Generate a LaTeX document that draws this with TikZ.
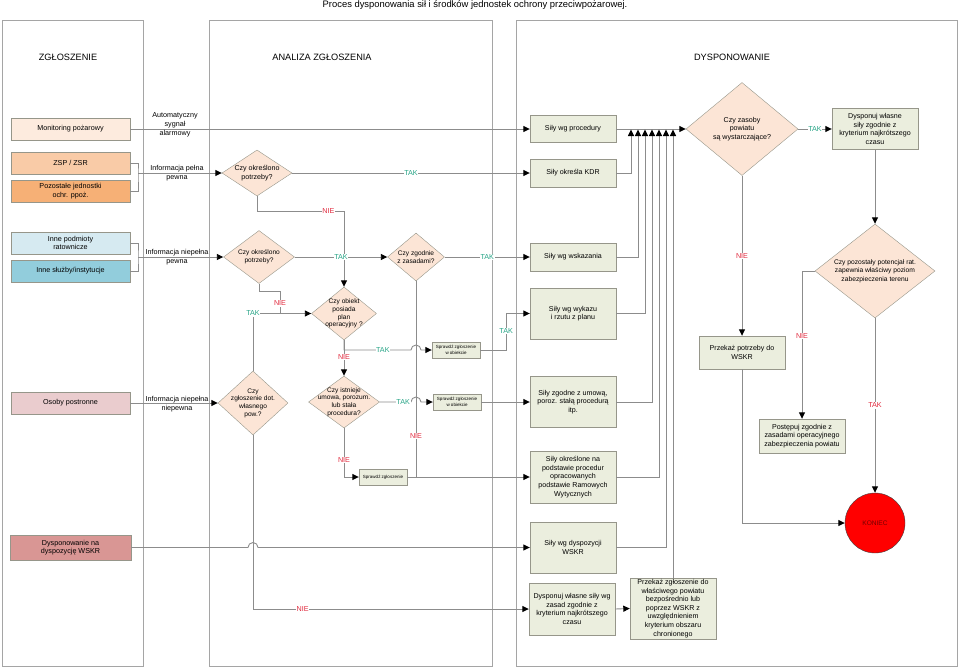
\documentclass[tikz,border=0pt]{standalone}
\usepackage{fontspec}
\setmainfont{Liberation Sans}
\usepackage{tikz}
\usetikzlibrary{shapes.geometric,arrows.meta,calc}

\definecolor{linegray}{RGB}{140,140,140}
\definecolor{lanegray}{RGB}{165,165,165}
\definecolor{boxgray}{RGB}{150,150,138}
\definecolor{diafill}{RGB}{252,229,214}
\definecolor{actfill}{RGB}{235,238,222}
\definecolor{takgreen}{RGB}{40,165,135}
\definecolor{niered}{RGB}{225,40,60}
\definecolor{monfill}{RGB}{253,235,222}
\definecolor{zspfill}{RGB}{249,203,167}
\definecolor{pozfill}{RGB}{246,176,118}
\definecolor{innefill}{RGB}{214,234,241}
\definecolor{sluzfill}{RGB}{146,205,220}
\definecolor{osobfill}{RGB}{234,204,206}
\definecolor{wskrfill}{RGB}{217,150,148}

\newcommand{\fsz}[2]{\fontsize{#1}{#2}\selectfont}

\tikzset{
  lane/.style={draw=lanegray, line width=0.9pt},
  src/.style={draw=boxgray, minimum width=119pt, minimum height=22pt, inner sep=1pt, align=center, font=\fsz{7.2}{8.5}},
  act/.style={draw=boxgray, fill=actfill, minimum width=86pt, inner sep=1pt, align=center, font=\fsz{7.1}{8.6}},
  chk/.style={draw=boxgray, fill=actfill, minimum width=48pt, minimum height=16pt, inner sep=0.5pt, align=center, font=\fsz{4.5}{5.3}},
  dec/.style={diamond, draw=boxgray, fill=diafill, inner sep=0pt},
  dlab/.style={align=center, font=\fsz{6.6}{7.6}},
  conn/.style={draw=linegray, line width=0.9pt},
  arr/.style={conn, -{Triangle[color=black, length=6.5pt, width=6pt]}},
  glbl/.style={text=takgreen, fill=white, inner sep=0.6pt, font=\fsz{7.2}{8}},
  rlbl/.style={text=niered, fill=white, inner sep=0.6pt, font=\fsz{7.2}{8}},
  info/.style={align=center, font=\fsz{7.2}{9}}
}

\begin{document}
\begin{tikzpicture}[x=1pt,y=-1pt]
\useasboundingbox (0,0) rectangle (960,669);

% Title and lanes
\node[font=\fsz{9.4}{11}] (title) at (475,5) {Proces dysponowania sił i środków jednostek ochrony przeciwpożarowej.};
\draw[lane] (2,20) rectangle (143,666);
\draw[lane] (209,20) rectangle (492,666);
\draw[lane] (516,20) rectangle (957,666);
\node[font=\fsz{9.2}{10}] (lz) at (68,57) {ZGŁOSZENIE};
\node[font=\fsz{9.2}{10}] (la) at (322,57) {ANALIZA ZGŁOSZENIA};
\node[font=\fsz{9.2}{10}] (ld) at (732,57) {DYSPONOWANIE};

% Zgloszenie
\node[src, fill=monfill] (mon) at (70.5,129) {Monitoring pożarowy};
\node[src, fill=zspfill] (zsp) at (70.5,163) {ZSP / ZSR};
\node[src, fill=pozfill] (poz) at (70.5,191) {Pozostałe jednostki\\ochr. ppoż.};
\node[src, fill=innefill] (inne) at (70.5,243) {Inne podmioty\\ratownicze};
\node[src, fill=sluzfill] (sluz) at (70.5,271) {Inne służby/instytucje};
\node[src, fill=osobfill] (osob) at (70.5,403) {Osoby postronne};
\node[src, fill=wskrfill, minimum width=121pt, minimum height=25pt] (wskr) at (70.5,547.5) {Dysponowanie na\\dyspozycję WSKR};
\coordinate (j1) at (138,173);
\coordinate (j2) at (138,257);

% Analiza zgloszenia
\node[dec, minimum width=70pt, minimum height=46pt, label={[dlab,font=\fsz{7.1}{8.6}]center:{Czy określono\\potrzeby?}}] (d1) at (257,173) {};
\node[dec, minimum width=71pt, minimum height=53pt, label={[dlab]center:{Czy określono\\potrzeby?}}] (d2) at (259,257) {};
\node[dec, minimum width=57pt, minimum height=48pt, label={[dlab]center:{Czy zgodnie\\z zasadami?}}] (d3) at (416,257) {};
\node[dec, minimum width=65pt, minimum height=53pt, label={[dlab]center:{Czy obiekt\\posiada\\plan\\operacyjny ?}}] (d4) at (344,313.5) {};
\node[dec, minimum width=70pt, minimum height=64pt, label={[dlab]center:{Czy\\zgłoszenie dot.\\własnego\\pow.?}}] (d5) at (253,403) {};
\node[dec, minimum width=71pt, minimum height=52pt, label={[dlab]center:{Czy istnieje\\umowa, porozum.\\lub stała\\procedura?}}] (d6) at (344,402) {};
\node[chk] (chk1) at (456,350) {Sprawdź zgłoszenie\\w obiekcie};
\node[chk] (chk2) at (457,402) {Sprawdź zgłoszenie\\w obiekcie};
\node[chk] (chk3) at (383,477) {Sprawdź zgłoszenie};

% Dysponowanie
\node[act, minimum height=27pt] (proc) at (573,129) {Siły wg procedury};
\node[act, minimum height=28pt] (kdr) at (573,173) {Siły określa KDR};
\node[act, minimum height=28pt] (wsk) at (573,257) {Siły wg wskazania};
\node[act, minimum height=51pt] (wyk) at (573,313.5) {Siły wg wykazu\\i rzutu z planu};
\node[act, minimum height=51pt] (zgod) at (573,402) {Siły zgodne z umową,\\poroz. stałą procedurą\\itp.};
\node[act, minimum height=52pt] (okr) at (573,477) {Siły określone na\\podstawie procedur\\opracowanych\\podstawie Ramowych\\Wytycznych};
\node[act, minimum height=51pt] (dwskr) at (573,547.5) {Siły wg dyspozycji\\WSKR};
\node[act, minimum height=52pt] (dysp2) at (572,609) {Dysponuj własne siły wg\\zasad zgodnie z\\kryterium najkrótszego\\czasu};
\node[act, minimum height=61pt] (przek2) at (673,608.5) {Przekaż zgłoszenie do\\właściwego powiatu\\bezpośrednio lub\\poprzez WSKR z\\uwzględnieniem\\kryterium obszaru\\chronionego};
\node[dec, minimum width=112pt, minimum height=93pt, label={[dlab,font=\fsz{7.1}{8.4}]center:{Czy zasoby\\powiatu\\są wystarczające?}}] (d7) at (742,129) {};
\node[act, minimum height=41pt] (dysp1) at (875,129) {Dysponuj własne\\siły zgodnie z\\kryterium najkrótszego\\czasu};
\node[dec, minimum width=120pt, minimum height=94pt, label={[dlab,font=\fsz{6.7}{8.4}]center:{Czy pozostały potencjał rat.\\zapewnia właściwy poziom\\zabezpieczenia terenu}}] (d8) at (875,271) {};
\node[act, minimum height=33pt] (przek1) at (742,352.5) {Przekaż potrzeby do\\WSKR};
\node[act, minimum height=34pt] (post) at (802,436) {Postępuj zgodnie z\\zasadami operacyjnego\\zabezpieczenia powiatu};
\node[circle, draw=darkgray, fill=red, minimum size=60pt, text=red!45!black, font=\fsz{6.6}{8}] (kon) at (875,523) {KONIEC};

% Connectors from the left lane
\draw[arr] (mon.east) -- (proc.west);
\node[info] (l1) at (175,125) {Automatyczny\\sygnał\\alarmowy};
\draw[conn] (zsp.east) -| (j1) |- (poz.east);
\draw[arr] (j1) -- (d1.west);
\node[info] (l2) at (177,173) {Informacja pełna\\pewna};
\draw[conn] (inne.east) -| (j2) |- (sluz.east);
\draw[arr] (j2) -- (d2.west);
\node[info] (l3) at (177,257) {Informacja niepełna\\pewna};
\draw[arr] (osob.east) -- (d5.west);
\node[info] (l4) at (177,404) {Informacja niepełna\\niepewna};
\draw[arr] (wskr.east) -- ($(d5.south |- wskr.east)+(-5,0)$) arc (180:360:5) -- (dwskr.west);

% Connectors in the analysis lane
\draw[arr] (d1.east) -- (kdr.west) node[glbl, midway] {TAK};
\draw[arr] (d1.south) -- ++(0,15) -| (d4.north) node[rlbl, pos=0.41] {NIE};
\coordinate (j3) at (280,313.5);
\draw[conn] (d2.south) -- ++(0,8) -| (j3) node[rlbl, pos=0.77] {NIE};
\draw[conn] (d5.north) |- (j3) node[glbl, pos=0.5] {TAK};
\draw[arr] (j3) -- (d4.west);
\draw[arr] (d2.east) -- (d3.west) node[glbl, midway] {TAK};
\draw[arr] (d3.east) -- (wsk.west) node[glbl, midway] {TAK};
\draw[conn] (d3.south) -- (d3.south |- chk3.east) node[rlbl, pos=0.79] {NIE};
\draw[arr] (d4.south) |- ($(d3.south |- chk1.west)+(-5,0)$) node[glbl, pos=0.79] {TAK} arc (180:360:5) -- (chk1.west);
\draw[arr] (d4.south) -- (d6.north) node[rlbl, pos=0.47] {NIE};
\draw[arr] (chk1.east) -- ++(26,0) |- (wyk.west) node[glbl, pos=0.26] {TAK};
\draw[arr] (d6.east) -- ($(d3.south |- chk2.west)+(-5,0)$) node[glbl, pos=0.75] {TAK} arc (180:360:5) -- (chk2.west);
\draw[arr] (chk2.east) -- (zgod.west);
\draw[arr] (d6.south) |- (chk3.west) node[rlbl, pos=0.33] {NIE};
\draw[arr] (chk3.east) -- (okr.west);
\draw[arr] (d5.south) |- (dysp2.west) node[rlbl, pos=0.59] {NIE};

% Connectors in the dispatch lane
\draw[arr] (proc.east) -- (d7.west);
\foreach \src/\xx [count=\i] in {kdr/631,wsk/638,wyk/645,zgod/652,okr/659,dwskr/666}
{
  \coordinate (in\i) at (\xx,129.5);
  \draw[arr] (\src.east) -| (in\i);
}
\coordinate (in7) at (673,129.5);
\draw[arr] (przek2.north) -- (in7);
\draw[arr] (d7.east) -- (dysp1.west) node[glbl, midway] {TAK};
\draw[arr] (dysp1.south) -- (d8.north);
\draw[arr] (d7.south) -- (przek1.north) node[rlbl, midway] {NIE};
\draw[arr] (d8.west) -| (post.north) node[rlbl, pos=0.72] {NIE};
\draw[arr] (d8.south) -- (kon.north) node[rlbl, midway] {TAK};
\draw[arr] (przek1.south) |- (kon.west);
\draw[arr] (dysp2.east) -- (przek2.west);
\end{tikzpicture}
\end{document}
